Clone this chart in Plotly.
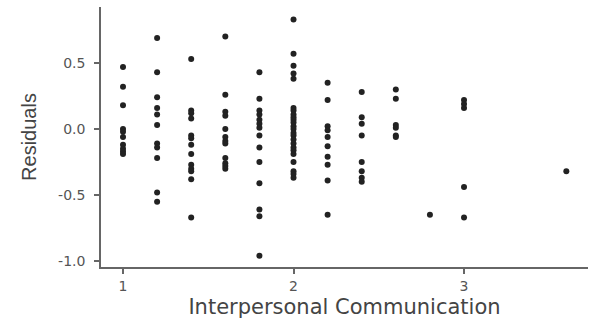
import plotly.graph_objects as go

# Data: residuals per Interpersonal Communication level
x_levels = [1.0, 1.2, 1.4, 1.6, 1.8, 2.0, 2.2, 2.4, 2.6, 2.8, 3.0, 3.6]
res_1_0 = [0.47, 0.32, 0.18, 0.0, -0.02, -0.06, -0.12, -0.15, -0.17, -0.19]
res_1_2 = [0.69, 0.43, 0.24, 0.16, 0.11, 0.03, -0.11, -0.14, -0.22, -0.48, -0.55]
res_1_4 = [0.53, 0.14, 0.12, 0.08, -0.05, -0.07, -0.12, -0.19, -0.27, -0.30, -0.32, -0.38, -0.67]
res_1_6 = [0.70, 0.26, 0.13, 0.10, 0.0, -0.06, -0.09, -0.11, -0.22, -0.26, -0.28, -0.30]
res_1_8 = [0.43, 0.23, 0.14, 0.11, 0.07, 0.04, 0.01, -0.05, -0.14, -0.25, -0.41, -0.61, -0.66, -0.96]
res_2_0 = [0.83, 0.57, 0.48, 0.42, 0.38, 0.16, 0.14, 0.11, 0.09, 0.07, 0.05, 0.02, 0.0,
           -0.03, -0.05, -0.08, -0.11, -0.14, -0.16, -0.19, -0.25, -0.32, -0.34, -0.37]
res_2_2 = [0.35, 0.22, 0.02, -0.01, -0.06, -0.13, -0.21, -0.27, -0.39, -0.65]
res_2_4 = [0.28, 0.09, 0.04, -0.05, -0.25, -0.32, -0.37, -0.40]
res_2_6 = [0.30, 0.23, 0.03, 0.01, -0.05, -0.06]
res_2_8 = [-0.65]
res_3_0 = [0.22, 0.19, 0.16, -0.44, -0.67]
res_3_6 = [-0.32]

groups = [res_1_0, res_1_2, res_1_4, res_1_6, res_1_8, res_2_0,
          res_2_2, res_2_4, res_2_6, res_2_8, res_3_0, res_3_6]

xs, ys = [], []
for xv, g in zip(x_levels, groups):
    xs += [xv] * len(g)
    ys += g

x_ticks = [1, 2, 3]
y_ticks = [-1.0, -0.5, 0.0, 0.5]

fig = go.Figure(go.Scatter(
    x=xs, y=ys, mode="markers",
    marker=dict(color="#222222", size=6, line=dict(width=0)),
    hoverinfo="skip",
))

axis_font = dict(family="DejaVu Sans, sans-serif", size=14, color="#555555")

fig.update_layout(
    width=590, height=327,
    margin=dict(l=101, r=2, t=7, b=60),
    paper_bgcolor="white", plot_bgcolor="white",
    showlegend=False,
    font=dict(family="DejaVu Sans, sans-serif", color="#444444"),
    xaxis=dict(
        range=[0.871, 3.727],
        tickvals=x_ticks, ticktext=[str(t) for t in x_ticks],
        showgrid=False, zeroline=False,
        showline=True, linecolor="#666666", linewidth=1.5,
        ticks="outside", ticklen=5, tickwidth=1.5, tickcolor="#666666",
        tickfont=axis_font,
        title=dict(text="Interpersonal Communication",
                   font=dict(family="DejaVu Sans, sans-serif", size=21, color="#444444"),
                   standoff=7),
    ),
    yaxis=dict(
        range=[-1.045, 0.924],
        tickvals=y_ticks, ticktext=["-1.0", "-0.5", "0.0", "0.5"],
        showgrid=False, zeroline=False,
        showline=True, linecolor="#666666", linewidth=1.5,
        ticks="outside", ticklen=5, tickwidth=1.5, tickcolor="#666666",
        ticklabelstandoff=6,
        tickfont=axis_font,
        title=dict(text="Residuals",
                   font=dict(family="Liberation Sans, sans-serif", size=20, color="#444444"),
                   standoff=16),
    ),
)

fig.write_html("out.html")
